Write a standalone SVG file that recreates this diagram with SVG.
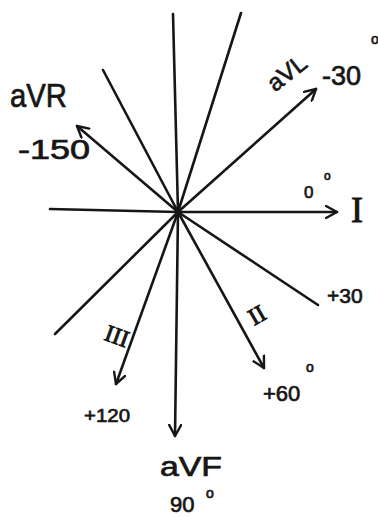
<svg xmlns="http://www.w3.org/2000/svg" width="378" height="517" viewBox="0 0 378 517">
<defs>
<style>
.ln{stroke:#161616;stroke-width:2.6;stroke-linecap:round;fill:none}
.ar{marker-end:url(#ah)}
.t{font-family:"Liberation Sans","DejaVu Sans",sans-serif;fill:#161616;stroke:#161616;stroke-width:0.7}
.s{font-family:"Liberation Serif","DejaVu Serif",serif;fill:#161616;stroke:#161616;stroke-width:0.9}
</style>
<marker id="ah" viewBox="0 0 14 14" refX="12" refY="7" markerWidth="14" markerHeight="14" markerUnits="userSpaceOnUse" orient="auto">
<path d="M1,1 L12,7 L1,13" fill="none" stroke="#161616" stroke-width="2.4" stroke-linecap="round" stroke-linejoin="round"/>
</marker>
</defs>
<rect width="378" height="517" fill="#ffffff"/>
<g id="connectors">
<line class="ln" x1="178" y1="212" x2="173" y2="14"/>
<line class="ln ar" x1="178" y1="212" x2="175" y2="436"/>
<line class="ln" x1="178" y1="212" x2="103" y2="70"/>
<line class="ln ar" x1="178" y1="212" x2="77" y2="126"/>
<line class="ln" x1="178" y1="212" x2="50" y2="209"/>
<line class="ln" x1="178" y1="212" x2="241" y2="13"/>
<line class="ln ar" x1="178" y1="212" x2="316" y2="89"/>
<line class="ln ar" x1="178" y1="212" x2="337" y2="212"/>
<line class="ln" x1="178" y1="212" x2="318" y2="305"/>
<line class="ln ar" x1="178" y1="212" x2="264" y2="368"/>
<line class="ln ar" x1="178" y1="212" x2="116" y2="384"/>
<line class="ln" x1="178" y1="212" x2="55" y2="334"/>
</g>
<g id="aVR">
<text class="t" x="10" y="107" font-size="34" textLength="57" lengthAdjust="spacingAndGlyphs">aVR</text>
<text class="t" x="18" y="159" font-size="27" textLength="72" lengthAdjust="spacingAndGlyphs">-150</text>
</g>
<g id="aVL">
<text class="t" x="287" y="81" font-size="24" text-anchor="middle" transform="rotate(-38 287 73)">aVL</text>
<text class="t" x="322" y="85" font-size="27">-30</text>
<text class="t" x="371" y="44" font-size="14">o</text>
</g>
<g id="I">
<text class="t" x="304" y="198" font-size="17">0</text>
<text class="t" x="324" y="180" font-size="12">o</text>
<text class="s" x="351" y="222" font-size="36">I</text>
</g>
<g id="p30">
<text class="t" x="327" y="303" font-size="21">+30</text>
</g>
<g id="II">
<text class="s" x="257" y="323" font-size="24" text-anchor="middle" transform="rotate(-30 257 315)">II</text>
<text class="t" x="263" y="401" font-size="22">+60</text>
<text class="t" x="306" y="372" font-size="14">o</text>
</g>
<g id="III">
<text class="s" x="117" y="344" font-size="24" text-anchor="middle" transform="rotate(20 117 336)">III</text>
<text class="t" x="84" y="422" font-size="19" textLength="46" lengthAdjust="spacingAndGlyphs">+120</text>
</g>
<g id="aVF">
<text class="t" x="160" y="476" font-size="27" textLength="62" lengthAdjust="spacingAndGlyphs">aVF</text>
<text class="t" x="170" y="512" font-size="22">90</text>
<text class="t" x="206" y="498" font-size="14">o</text>
</g>
</svg>
